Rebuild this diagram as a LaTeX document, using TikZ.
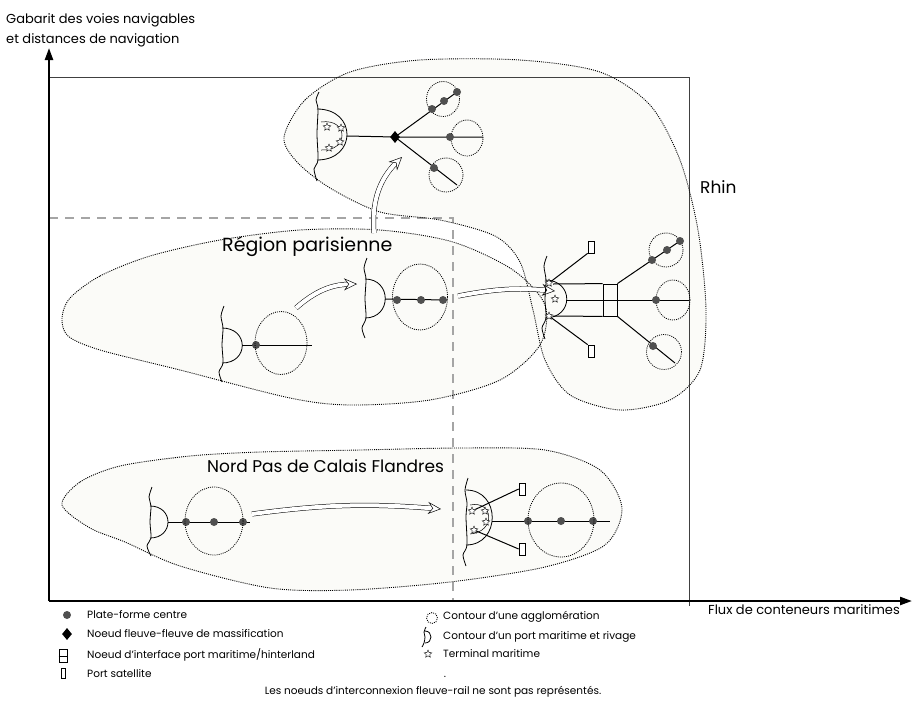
\documentclass[tikz,border=0pt]{standalone}
\usepackage{fontspec}
\setmainfont{Poppins}
\usetikzlibrary{shapes.geometric,arrows.meta,positioning}
\definecolor{blobfill}{HTML}{FBFBF8}
\definecolor{hubgray}{HTML}{505050}
\definecolor{limitgray}{HTML}{A5A5A5}
\pgfdeclarelayer{regions}
\pgfdeclarelayer{links}
\pgfsetlayers{regions,links,main}
\tikzset{
    region-blob/.style = {draw, line width=0.9pt, dash pattern=on 1pt off 1.1pt},
    agglo/.style = {ellipse, draw, line width=0.8pt, dash pattern=on 1pt off 1.1pt, inner sep=0pt},
    hub/.style = {circle, fill=hubgray, inner sep=0pt, minimum size=8pt},
    river-node/.style = {diamond, fill=black, inner sep=0pt, minimum width=10pt, minimum height=12pt},
    terminal/.style = {star, star points=5, star point ratio=2.2, draw, fill=white, inner sep=0pt, minimum size=8pt, line width=0.4pt},
    satellite/.style = {rectangle, draw, fill=white, inner sep=0pt, minimum width=6pt, minimum height=12pt, line width=0.7pt},
    interface/.style = {rectangle, draw, inner sep=0pt, minimum width=14pt, minimum height=32pt, line width=0.8pt},
    link/.style = {line width=1pt},
    shore/.style = {line width=0.8pt},
    hollow-arrow/.style = {double=white, double distance=4pt, line width=0.5pt, -{Stealth[length=13pt, width=12pt, inset=4.5pt, fill=white]}},
    frame-line/.style = {line width=0.7pt, draw=black!75},
    limit-line/.style = {line width=1.6pt, draw=limitgray, dash pattern=on 9pt off 7pt},
    axis-line/.style = {line width=2.2pt, -{Triangle[length=12pt,width=8pt]}},
    axis-label/.style = {font=\fontsize{13}{15}\selectfont, inner sep=0pt},
    paris-label/.style = {font=\fontsize{19}{21}\selectfont, inner sep=0pt},
    region-label/.style = {font=\fontsize{17}{19}\selectfont, inner sep=0pt},
    legend-text/.style = {anchor=west, inner sep=0pt, font=\fontsize{10.5}{12}\selectfont},
}

\begin{document}
\begin{tikzpicture}[x=1pt, y=-1pt]
\useasboundingbox (0,0) rectangle (913,702);

\begin{pgfonlayer}{regions}
\path[fill=blobfill, save path=\rhinshape] plot[smooth cycle] coordinates {(284,137) (305,100) (350,72) (420,60) (520,60) (600,72) (650,105) (680,160) (698,230) (706,310) (700,370) (670,400) (620,410) (570,395) (545,360) (533,310) (520,262) (495,236) (440,220) (380,212) (330,188) (297,162)};
\path[fill=blobfill, save path=\parisshape] plot[smooth cycle] coordinates {(70,298) (100,276) (150,256) (220,240) (300,230) (380,230) (453,242) (513,270) (545,305) (540,345) (500,380) (430,400) (350,405) (290,398) (180,370) (100,350) (68,336) (62,318)};
\path[fill=blobfill, save path=\nordshape] plot[smooth cycle] coordinates {(62,505) (80,482) (120,466) (190,456) (260,452) (360,450) (460,448) (545,450) (600,470) (622,508) (605,545) (545,567) (450,582) (350,590) (270,588) (180,566) (125,542) (90,528)};
\end{pgfonlayer}

\coordinate (origin) at (49,601);
\coordinate (ytip) at (49,48);
\coordinate (xtip) at (912,601);
\coordinate (frame-nw) at (49,77);
\coordinate (frame-ne) at (689,77);
\coordinate (frame-se) at (689,606);
\coordinate (limit-w) at (49,218);
\coordinate (limit-c) at (453,218);
\coordinate (limit-s) at (453,601);
\begin{pgfonlayer}{links}
\draw[frame-line] (frame-nw) -- (frame-ne) -- (frame-se);
\draw[limit-line] (limit-w) -- (limit-c) -- (limit-s);
\draw[region-blob, use path=\rhinshape];
\draw[region-blob, use path=\parisshape];
\draw[region-blob, use path=\nordshape];
\end{pgfonlayer}
\draw[axis-line] (origin) -- (ytip);
\draw[axis-line] (origin) -- (xtip);

\node[axis-label, anchor=base west] (ylabel-a) at (6,23) {Gabarit des voies navigables};
\node[axis-label, anchor=base west] (ylabel-b) at (6,43) {et distances de navigation};
\node[axis-label, anchor=base west] (xlabel) at (708,614) {Flux de conteneurs maritimes};
\node[paris-label, anchor=base west] (lparis) at (222,251) {Région parisienne};
\node[region-label, anchor=base west] (lnord) at (207,472) {Nord Pas de Calais Flandres};
\node[region-label, anchor=base west] (lrhin) at (700,193) {Rhin};

\draw[shore] plot[smooth] coordinates {(319,92) (316,100) (318,109) (317,134) (318,160) (314,169) (317,181)};
\draw[shore] (317,109) .. controls (357,109) and (357,160) .. (317,160);
\draw[line width=0.5pt] (321,122) .. controls (349,118) and (349,152) .. (321,150);
\node[terminal] (tt1) at (327,127) {};
\node[terminal] (tt2) at (341,128) {};
\node[terminal] (tt3) at (340,142) {};
\node[terminal] (tt4) at (329,148) {};
\coordinate (tport) at (347,136);
\node[river-node] (tdia) at (395,137) {};
\node[agglo, minimum width=33pt, minimum height=35pt] (tca) at (443,99) {};
\node[agglo, minimum width=32pt, minimum height=36pt] (tcb) at (467,138) {};
\node[agglo, minimum width=34pt, minimum height=34pt] (tcc) at (446,175) {};
\node[hub] (ta1) at (432,109) {};
\node[hub] (ta2) at (444,101) {};
\node[hub] (ta3) at (457,92) {};
\node[hub] (tb1) at (450,137) {};
\coordinate (tb2) at (483,137);
\node[hub] (tc1) at (434,168) {};
\coordinate (tc2) at (457,185);
\coordinate (tarr-s) at (374,233);
\coordinate (tarr-e) at (402,157);
\begin{pgfonlayer}{links}
\draw[link] (tport) -- (tdia.center) -- (tb2);
\draw[link] (tdia.center) -- (ta3.center);
\draw[link] (tdia.center) -- (tc2);
\end{pgfonlayer}
\draw[hollow-arrow] (tarr-s) to[bend left=25] (tarr-e);

\draw[shore] plot[smooth] coordinates {(224,306) (221,316) (223,328) (222,345) (223,363) (219,372) (222,382)};
\draw[shore] (222,328) .. controls (249,328) and (249,363) .. (222,363);
\coordinate (pl-port) at (242,345);
\node[hub] (pl1) at (256,345) {};
\coordinate (pl-end) at (312,345);
\node[agglo, minimum width=52pt, minimum height=63pt] (plc) at (281,343) {};
\coordinate (pl-arr-s) at (296,308);
\coordinate (pl-arr-e) at (357,284);
\begin{pgfonlayer}{links}
\draw[link] (pl-port) -- (pl-end);
\end{pgfonlayer}
\draw[hollow-arrow] (pl-arr-s) to[bend left=20] (pl-arr-e);

\draw[shore] plot[smooth] coordinates {(367,258) (364,268) (366,279) (365,299) (366,318) (362,328) (365,338)};
\draw[shore] (365,279) .. controls (392,279) and (392,318) .. (365,318);
\coordinate (pm-port) at (385,299);
\node[hub] (pm1) at (397,300) {};
\node[hub] (pm2) at (421,300) {};
\node[hub] (pm3) at (443,300) {};
\coordinate (pm-end) at (447,300);
\node[agglo, minimum width=55pt, minimum height=66pt] (pmc) at (420,297) {};
\coordinate (pm-arr-s) at (458,296);
\coordinate (pm-arr-e) at (555,291);
\begin{pgfonlayer}{links}
\draw[link] (pm-port) -- (pm-end);
\end{pgfonlayer}
\draw[hollow-arrow] (pm-arr-s) to[bend left=8] (pm-arr-e);

\draw[shore] plot[smooth] coordinates {(547,256) (544,266) (546,280) (545,299) (546,318) (542,328) (545,339)};
\draw[shore] (545,280) .. controls (574,280) and (574,318) .. (545,318);
\node[terminal] (rt1) at (549,283) {};
\node[terminal] (rt2) at (555,299) {};
\node[terminal] (rt3) at (549,316) {};
\coordinate (rp-top) at (553,284);
\coordinate (rp-bot) at (553,316);
\coordinate (rp-mid) at (567,300);
\node[interface] (rif) at (610,300) {};
\node[satellite] (rs1) at (591,247) {};
\node[satellite] (rs2) at (591,351) {};
\node[agglo, minimum width=34pt, minimum height=34pt] (rca) at (666,250) {};
\node[agglo, minimum width=34pt, minimum height=40pt] (rcb) at (673,300) {};
\node[agglo, minimum width=35pt, minimum height=35pt] (rcc) at (664,352) {};
\node[hub] (ra1) at (652,260) {};
\node[hub] (ra2) at (667,250) {};
\node[hub] (ra3) at (680,241) {};
\node[hub] (rb1) at (656,300) {};
\coordinate (rb-end) at (689,300);
\node[hub] (rc1) at (653,346) {};
\coordinate (rc-end) at (675,363);
\begin{pgfonlayer}{links}
\draw[link] (rp-top) -- (rif.north west);
\draw[link] (rp-bot) -- (rif.south west);
\draw[link] (rp-mid) -- (rb-end);
\draw[link] (rt1) -- (rs1.south west);
\draw[link] (rt3) -- (rs2.north west);
\draw[link] (rif.north east) -- (ra3.center);
\draw[link] (rif.south east) -- (rc-end);
\end{pgfonlayer}

\draw[shore] plot[smooth] coordinates {(152,487) (149,497) (151,506) (150,522) (151,538) (147,546) (151,556)};
\draw[shore] (150,506) .. controls (174,506) and (174,538) .. (150,538);
\coordinate (nl-port) at (168,522);
\node[hub] (nl1) at (186,522) {};
\node[hub] (nl2) at (214,522) {};
\node[hub] (nl3) at (243,522) {};
\coordinate (nl-end) at (250,522);
\node[agglo, minimum width=58pt, minimum height=68pt] (nlc) at (214,521) {};
\coordinate (n-arr-s) at (252,514);
\coordinate (n-arr-e) at (441,509);
\begin{pgfonlayer}{links}
\draw[link] (nl-port) -- (nl-end);
\end{pgfonlayer}
\draw[hollow-arrow] (n-arr-s) to[bend left=6] (n-arr-e);

\draw[shore] plot[smooth] coordinates {(468,478) (465,490) (467,503) (466,517) (467,545) (463,555) (466,566)};
\draw[shore] (466,490) .. controls (501,490) and (501,545) .. (466,545);
\draw[line width=0.5pt] (470,505) .. controls (494,500) and (496,532) .. (470,534);
\node[terminal] (nt1) at (472,511) {};
\node[terminal] (nt2) at (485,511) {};
\node[terminal] (nt3) at (486,522) {};
\node[terminal] (nt4) at (474,530) {};
\coordinate (nr-port) at (492,521);
\node[satellite] (ns1) at (522,489) {};
\node[satellite] (ns2) at (522,549) {};
\node[hub] (nr1) at (528,521) {};
\node[hub] (nr2) at (561,521) {};
\node[hub] (nr3) at (593,521) {};
\coordinate (nr-end) at (610,521);
\node[agglo, minimum width=66pt, minimum height=74pt] (nrc) at (561,520) {};
\begin{pgfonlayer}{links}
\draw[link] (nr-port) -- (nr-end);
\draw[link] (nt1) -- (ns1.west);
\draw[link] (nt4) -- (ns2.west);
\end{pgfonlayer}

\node[hub, minimum size=8pt] (k-hub) at (67,615) {};
\node[legend-text] (t-hub) at (87,615) {Plate-forme centre};
\node[river-node] (k-dia) at (67,634) {};
\node[legend-text] (t-dia) at (87,634) {Noeud fleuve-fleuve de massification};
\node[interface, minimum width=8pt, minimum height=13pt] (k-if) at (63,656) {};
\draw[line width=0.8pt] (k-if.west) -- (k-if.east);
\node[legend-text] (t-if) at (87,655) {Noeud d'interface port maritime/hinterland};
\node[satellite, minimum width=4pt, minimum height=10pt] (k-sat) at (63,673) {};
\node[legend-text] (t-sat) at (87,674) {Port satellite};
\node[agglo, minimum size=11pt] (k-agglo) at (432,618) {};
\node[legend-text] (t-agglo) at (443,617) {Contour d'une agglomération};
\draw[shore] plot[smooth] coordinates {(426,627) (424,632) (425,637) (424,643) (422,647)};
\draw[shore] (425,631) .. controls (433,631) and (433,643) .. (425,643);
\node[legend-text] (t-port) at (443,637) {Contour d'un port maritime et rivage};
\node[terminal, minimum size=8pt] (k-term) at (428,654) {};
\node[legend-text] (t-term) at (443,654) {Terminal maritime};
\node[legend-text, anchor=center] (k-dot) at (445,677) {.};
\node[legend-text, anchor=center] (k-note) at (433,692) {Les noeuds d'interconnexion fleuve-rail ne sont pas représentés.};
\end{tikzpicture}
\end{document}
